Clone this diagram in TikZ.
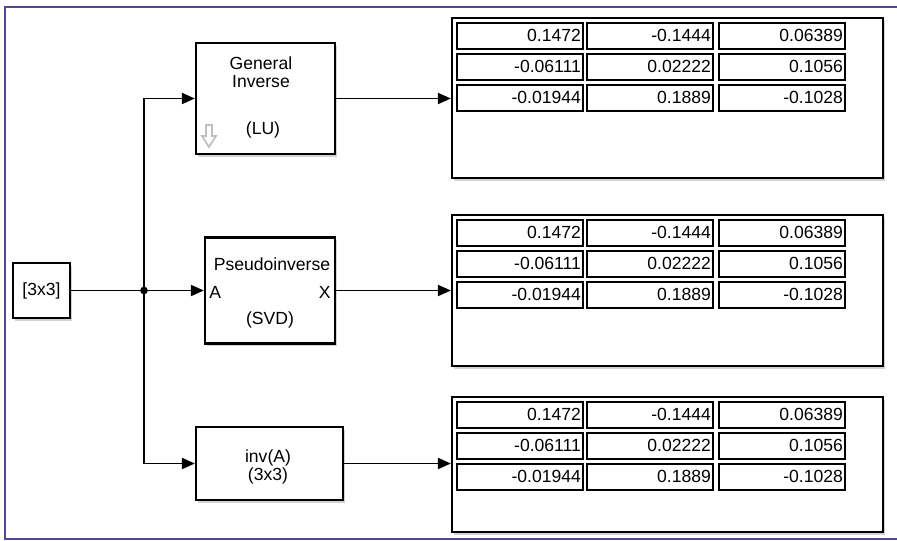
\documentclass[tikz,border=0pt]{standalone}
\usepackage{fontspec}
\setmainfont{Liberation Sans}
\usetikzlibrary{arrows.meta,shadows,calc}
\definecolor{framepurple}{RGB}{86,70,150}
\tikzset{
  blk/.style={draw, line width=1.3pt, fill=white, inner sep=0pt,
    drop shadow={shadow xshift=1.2pt, shadow yshift=-1.5pt, fill=black!35, opacity=.5}},
  cell/.style={draw, line width=1.1pt, anchor=north west, text width=2.44cm,
    minimum height=0.52cm, inner sep=1.2pt, align=right},
  sig/.style={line width=1.1pt, -{Triangle[length=2.6mm,width=2.2mm]}},
  lbl/.style={align=center, inner sep=0pt}
}
\begin{document}
\begin{tikzpicture}[x=0.02cm, y=-0.02cm, font=\fontsize{10}{10}\selectfont]
  \useasboundingbox (0,0) rectangle (897,541);
  % model frame
  \draw[framepurple, line width=1.4pt] (897,7) -- (5,7) -- (5,539) -- (897,539);

  % blocks
  \node[blk, minimum width=1.14cm, minimum height=1.1cm] (src) at (41.5,290.5) {[3x3]};
  \node[blk, minimum width=2.78cm, minimum height=2.22cm] (gen) at (265.5,98.5) {};
  \node[blk, minimum width=2.6cm, minimum height=2.12cm] (pinv) at (270,290.5) {};
  \node[blk, minimum width=2.94cm, minimum height=1.46cm] (inv) at (269.5,463.5) {};

  \node[lbl] (gentxt) at (261,72) {General\\Inverse};
  \node[lbl] (lutxt) at (263,130) {(LU)};
  \draw[black!25, line width=1pt, fill=white]
    (206,125) -- (212,125) -- (212,136) -- (216,136) -- (209,147) -- (202,136) -- (206,136) -- cycle;
  \node[lbl] (pinvtxt) at (272,264) {Pseudoinverse};
  \node[lbl, anchor=west] (porta) at (209,292) {A};
  \node[lbl, anchor=east] (portx) at (331,292) {X};
  \node[lbl] (svdtxt) at (270,320) {(SVD)};
  \node[lbl] (invtxt) at (268,467) {inv(A)\\(3x3)};

  % branching
  \coordinate (jn) at (144,290.5);
  \draw[line width=1.1pt] (src.east) -- (jn);
  \fill (jn) circle (2.2pt);
  \draw[sig] (jn) -- (pinv.west);
  \draw[sig] (jn) |- (gen.west);
  \draw[sig] (jn) |- (inv.west);

  % displays
  \foreach \d/\blkname/\h/\yc in {1/gen/3.2/98, 2/pinv/3.02/290.5, 3/inv/2.7/464.5} {
    \node[blk, minimum width=8.62cm, minimum height=\h cm] (disp\d) at (667.5,\yc) {};
    \draw[sig] (\blkname.east) -- (disp\d.west |- \blkname.east);
    \foreach \r/\va/\vb/\vc in {1/0.1472/-0.1444/0.06389, 2/-0.06111/0.02222/0.1056, 3/-0.01944/0.1889/-0.1028} {
      \node[cell] (d\d r\r a) at ($(disp\d.north west)+(5,5+31*\r-31)$) {\va};
      \node[cell] (d\d r\r b) at ($(disp\d.north west)+(135,5+31*\r-31)$) {\vb};
      \node[cell] (d\d r\r c) at ($(disp\d.north west)+(267,5+31*\r-31)$) {\vc};
    }
  }
\end{tikzpicture}
\end{document}
